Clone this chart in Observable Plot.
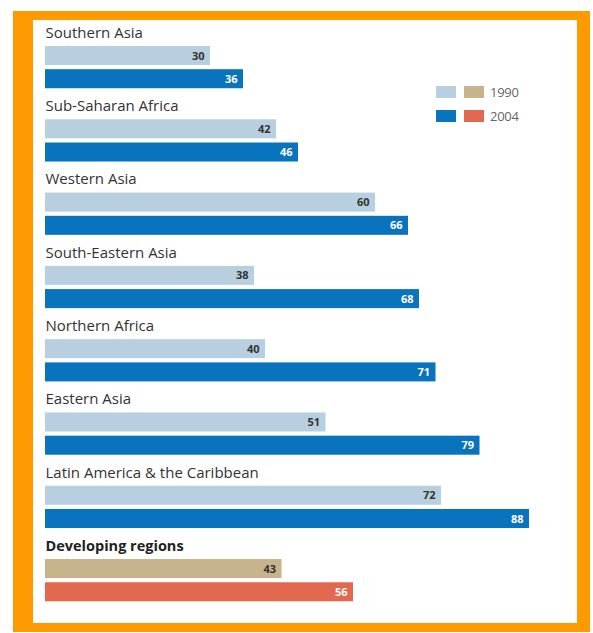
<!DOCTYPE html>
<html><head><meta charset="utf-8">
<script src="https://cdn.jsdelivr.net/npm/d3@7"></script>
<script src="https://cdn.jsdelivr.net/npm/@observablehq/plot@0.6"></script>
<style>
html,body{margin:0;padding:0;background:#fff;}
#wrap{position:relative;width:593px;height:633px;overflow:hidden;font-family:"Open Sans",sans-serif;}
#frame{position:absolute;left:13px;top:11px;width:544px;height:603px;border-style:solid;border-color:#ff9a00;border-width:9px 13px 9px 20px;background:#fff;}
#chart svg{position:absolute;left:0;top:0;}
.leg{position:absolute;font-size:13px;color:#666;line-height:12px;letter-spacing:-0.3px;}
.sw{position:absolute;width:20px;height:12px;}
</style></head>
<body>
<div id="wrap">
<div id="frame"></div>
<div id="chart"></div>
<div class="sw" style="left:436px;top:86px;background:#b7cfdf"></div>
<div class="sw" style="left:464px;top:86px;background:#c8b48c"></div>
<div class="leg" style="left:490px;top:86px">1990</div>
<div class="sw" style="left:436px;top:110px;background:#0a73bd"></div>
<div class="sw" style="left:464px;top:110px;background:#e2694f"></div>
<div class="leg" style="left:490px;top:110px">2004</div>
</div>
<script>
const regions = ["Southern Asia","Sub-Saharan Africa","Western Asia","South-Eastern Asia","Northern Africa","Eastern Asia","Latin America & the Caribbean","Developing regions"];
const values1990 = [30,42,60,38,40,51,72,43];
const values2004 = [36,46,66,68,71,79,88,56];
const years = ["1990","2004"];

const rows = [];
const labels = [];
const bars = [];
regions.forEach((r,i)=>{
  const dev = r === "Developing regions";
  rows.push(i+"-label", i+"-1990", i+"-2004");
  labels.push({row:i+"-label", name:r, bold:dev});
  bars.push({row:i+"-1990", year:"1990", value:values1990[i], fill: dev?"#c8b48c":"#b7cfdf", tfill:"#333333"});
  bars.push({row:i+"-2004", year:"2004", value:values2004[i], fill: dev?"#e2694f":"#0a73bd", tfill:"#ffffff"});
});
const b90 = bars.filter(d=>d.year==="1990");
const b04 = bars.filter(d=>d.year==="2004");
const numFont = "'Liberation Sans Narrow','Open Sans',sans-serif";

const chart = Plot.plot({
  width:593, height:633,
  margin:0,
  style:{background:"transparent", fontFamily:"'Open Sans',sans-serif", overflow:"visible"},
  x:{domain:[0,100], range:[45,595], axis:null},
  y:{type:"band", domain:rows, range:[18.85,605.2], padding:0, round:false, axis:null},
  color:{type:"identity"},
  marks:[
    Plot.barX(b90,{x:"value", y:"row", fill:"fill", insetTop:2.7, insetBottom:2.7}),
    Plot.barX(b04,{x:"value", y:"row", fill:"fill", insetTop:2.7, insetBottom:2.7, dy:-1.2}),
    Plot.text(b90,{x:"value", y:"row", text:d=>String(d.value), textAnchor:"end", dx:-6, fill:"tfill", fontWeight:"bold", fontSize:11, fontFamily:numFont}),
    Plot.text(b04,{x:"value", y:"row", dy:-1.2, text:d=>String(d.value), textAnchor:"end", dx:-6, fill:"tfill", fontWeight:"bold", fontSize:11, fontFamily:numFont}),
    Plot.text(labels.filter(d=>!d.bold),{x:0, y:"row", text:"name", textAnchor:"start", dy:1.5, fill:"#333333", fontSize:15}),
    Plot.text(labels.filter(d=>d.bold),{x:0, y:"row", text:"name", textAnchor:"start", dy:1.5, fill:"#222222", fontSize:14.5, fontWeight:"bold", letterSpacing:"-0.5px"})
  ]
});
document.getElementById("chart").appendChild(chart);
</script>
</body></html>
